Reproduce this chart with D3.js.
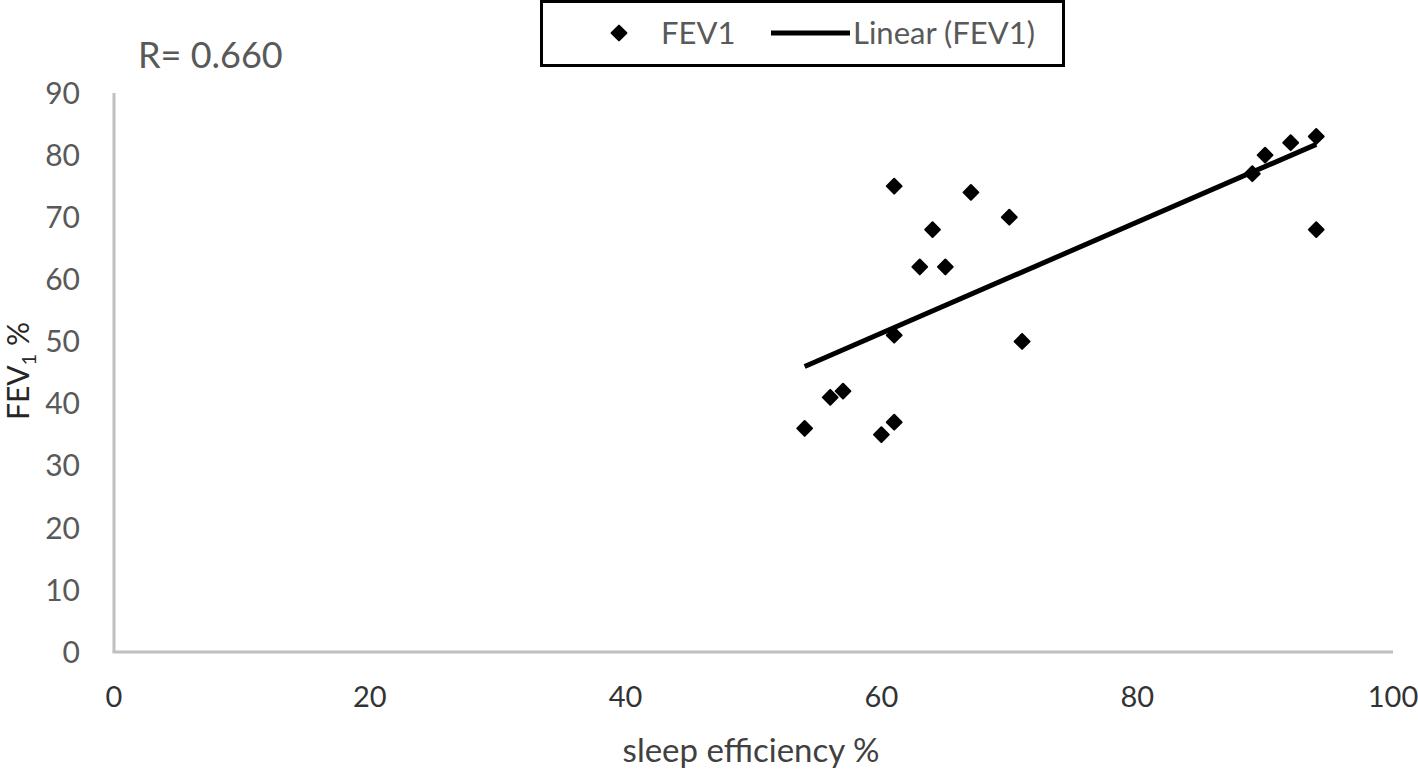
<!DOCTYPE html>
<html>
<head>
<meta charset="utf-8">
<script src="https://cdn.jsdelivr.net/npm/d3@7"></script>
<style>
  body { margin: 0; background: #fff; }
  svg { display: block; font-family: Lato, "Open Sans", sans-serif; }
</style>
</head>
<body>
<div id="chart"></div>
<script>
// sleep efficiency % vs FEV1 %
const sleepEff = [54, 56, 57, 60, 61, 61, 61, 63, 64, 65, 67, 70, 71, 89, 90, 92, 94, 94];
const fev1 = [36, 41, 42, 35, 37, 51, 75, 62, 68, 62, 74, 70, 50, 77, 80, 82, 83, 68];
const xTicks = [0, 20, 40, 60, 80, 100];
const yTicks = [0, 10, 20, 30, 40, 50, 60, 70, 80, 90];
const rLabel = "R= 0.660";

const width = 1418, height = 771;
const points = sleepEff.map((x, i) => ({x, y: fev1[i]}));

const svg = d3.select("#chart").append("svg")
    .attr("width", width)
    .attr("height", height);

const x = d3.scaleLinear().domain([0, 100]).range([114, 1393]);
const y = d3.scaleLinear().domain([0, 90]).range([652, 93]);

// axis lines
svg.append("line")
    .attr("x1", x(0)).attr("x2", x(0))
    .attr("y1", y(90)).attr("y2", y(0))
    .attr("stroke", "#bfbfbf").attr("stroke-width", 3);
svg.append("line")
    .attr("x1", x(0) - 1.5).attr("x2", x(100))
    .attr("y1", y(0)).attr("y2", y(0))
    .attr("stroke", "#bfbfbf").attr("stroke-width", 3);

// tick labels
svg.append("g").selectAll("text")
  .data(yTicks)
  .join("text")
    .attr("x", 80)
    .attr("y", d => y(d))
    .attr("dy", "0.36em")
    .attr("text-anchor", "end")
    .attr("font-size", 30)
    .attr("fill", "#595959")
    .text(d => d);

svg.append("g").selectAll("text")
  .data(xTicks)
  .join("text")
    .attr("x", d => x(d))
    .attr("y", 707)
    .attr("text-anchor", "middle")
    .attr("font-size", 29)
    .attr("fill", "#333")
    .text(d => d);

// axis titles
svg.append("text")
    .attr("x", 751).attr("y", 762)
    .attr("text-anchor", "middle")
    .attr("font-size", 33)
    .attr("fill", "#404040")
    .text("sleep efficiency %");

const yt = svg.append("text")
    .attr("transform", "translate(29,371) rotate(-90)")
    .attr("text-anchor", "middle")
    .attr("font-size", 30)
    .attr("fill", "#262626");
yt.append("tspan").text("FEV");
yt.append("tspan").attr("font-size", 20).attr("dy", 7).text("1");
yt.append("tspan").attr("dy", -7).text(" %");

svg.append("text")
    .attr("x", 138).attr("y", 68)
    .attr("font-size", 36)
    .attr("fill", "#595959")
    .text(rLabel);

// least squares trend line
const mx = d3.mean(sleepEff), my = d3.mean(fev1);
const slope = d3.sum(points, p => (p.x - mx) * (p.y - my)) / d3.sum(points, p => (p.x - mx) ** 2);
const icept = my - slope * mx;
const [x0, x1] = d3.extent(sleepEff);

svg.append("line")
    .attr("x1", x(x0)).attr("y1", y(icept + slope * x0))
    .attr("x2", x(x1)).attr("y2", y(icept + slope * x1))
    .attr("stroke", "#000").attr("stroke-width", 5);

const diamond = d3.symbol(d3.symbolSquare, 110)();

svg.append("g").selectAll("path")
  .data(points)
  .join("path")
    .attr("d", diamond)
    .attr("transform", d => `translate(${x(d.x)},${y(d.y)}) rotate(45)`)
    .attr("fill", "#000")
    .attr("stroke", "#000")
    .attr("stroke-width", 2)
    .attr("stroke-linejoin", "round");

// legend
const lg = svg.append("g");
lg.append("rect")
    .attr("x", 541.5).attr("y", 1.5)
    .attr("width", 522).attr("height", 64)
    .attr("fill", "#fff")
    .attr("stroke", "#000").attr("stroke-width", 3);
lg.append("path")
    .attr("d", diamond)
    .attr("transform", "translate(619,33) rotate(45)")
    .attr("fill", "#000").attr("stroke", "#000")
    .attr("stroke-width", 2).attr("stroke-linejoin", "round");
lg.append("text")
    .attr("x", 661).attr("y", 33).attr("dy", "0.36em")
    .attr("font-size", 31).attr("fill", "#595959")
    .text("FEV1");
lg.append("line")
    .attr("x1", 771).attr("x2", 850)
    .attr("y1", 33).attr("y2", 33)
    .attr("stroke", "#000").attr("stroke-width", 5);
lg.append("text")
    .attr("x", 853).attr("y", 33).attr("dy", "0.36em")
    .attr("font-size", 31).attr("fill", "#595959")
    .text("Linear (FEV1)");
</script>
</body>
</html>
